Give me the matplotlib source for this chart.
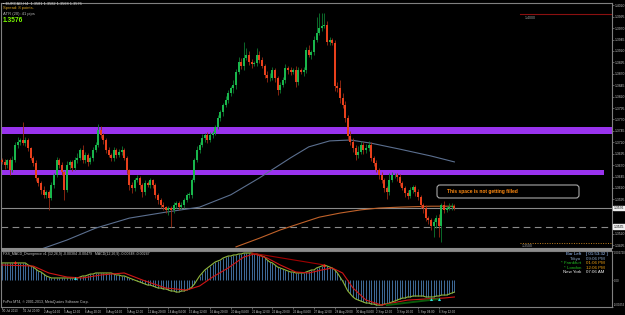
import numpy as np
import matplotlib
matplotlib.use("Agg")
import matplotlib.pyplot as plt
import matplotlib.transforms as mtransforms
from matplotlib.patches import FancyBboxPatch, Rectangle

plt.rcParams['font.family'] = ['Liberation Sans', 'DejaVu Sans']

# ---------------- data ----------------
closes = [
    1.3677, 1.3670, 1.3681, 1.3659, 1.3681, 1.3714, 1.3721, 1.3725, 1.3718, 1.3725,
    1.3707, 1.3686, 1.3675, 1.3642, 1.3631, 1.3616, 1.3605, 1.3611, 1.3598, 1.3626,
    1.3648, 1.3681, 1.3670, 1.3655, 1.3616, 1.3670, 1.3677, 1.3663, 1.3681, 1.3686,
    1.3703, 1.3681, 1.3692, 1.3677, 1.3686, 1.3703, 1.3714, 1.3747, 1.3736, 1.3725,
    1.3703, 1.3692, 1.3686, 1.3703, 1.3692, 1.3699, 1.3703, 1.3686, 1.3659, 1.3626,
    1.3620, 1.3637, 1.3642, 1.3626, 1.3611, 1.3631, 1.3626, 1.3637, 1.3626, 1.3605,
    1.3594, 1.3583, 1.3578, 1.3572, 1.3576, 1.3572, 1.3583, 1.3587, 1.3578, 1.3583,
    1.3594, 1.3605, 1.3605, 1.3637, 1.3681, 1.3703, 1.3714, 1.3729, 1.3736, 1.3725,
    1.3736, 1.3740, 1.3753, 1.3773, 1.3786, 1.3802, 1.3813, 1.3828, 1.3839, 1.3845,
    1.3874, 1.3896, 1.3887, 1.3905, 1.3911, 1.3896, 1.3892, 1.3894, 1.3911, 1.3900,
    1.3887, 1.3868, 1.3861, 1.3861, 1.3878, 1.3861, 1.3835, 1.3845, 1.3856, 1.3883,
    1.3878, 1.3874, 1.3878, 1.3852, 1.3878, 1.3874, 1.3878, 1.3922, 1.3911, 1.3918,
    1.3944, 1.3959, 1.3970, 1.3975, 1.3977, 1.3940, 1.3944, 1.3937, 1.3843, 1.3839,
    1.3817, 1.3802, 1.3773, 1.3734, 1.3721, 1.3707, 1.3692, 1.3699, 1.3714, 1.3703,
    1.3707, 1.3714, 1.3686, 1.3675, 1.3659, 1.3648, 1.3637, 1.3620, 1.3611, 1.3637,
    1.3648, 1.3648, 1.3644, 1.3631, 1.3620, 1.3609, 1.3602, 1.3616, 1.3622, 1.3611,
    1.3600, 1.3583, 1.3576, 1.3554, 1.3550, 1.3537, 1.3545, 1.3554, 1.3537, 1.3583,
    1.3572, 1.3576, 1.3578, 1.3580, 1.3576,
]
first_open = 1.3681
upper_wick_pips = [
    4, 6, 3, 5, 8, 6, 10, 5, 40, 6,
    4, 3, 5, 6, 3, 4, 8, 5, 4, 6,
    5, 7, 4, 6, 3, 8, 5, 4, 6, 10,
    5, 12, 6, 4, 5, 7, 6, 12, 8, 5,
    4, 6, 5, 7, 4, 6, 8, 5, 4, 3,
    6, 5, 7, 4, 5, 6, 4, 5, 3, 4,
    5, 4, 6, 3, 5, 4, 6, 5, 4, 6,
    5, 4, 6, 5, 4, 8, 6, 10, 5, 7,
    6, 5, 4, 6, 5, 4, 8, 6, 5, 12,
    6, 10, 8, 35, 15, 8, 6, 5, 15, 8,
    6, 5, 8, 10, 6, 5, 4, 7, 6, 8,
    5, 6, 4, 8, 6, 5, 7, 6, 12, 5,
    8, 35, 33, 28, 26, 8, 6, 5, 8, 10,
    18, 12, 8, 6, 10, 8, 6, 12, 8, 6,
    10, 8, 6, 5, 7, 4, 6, 5, 4, 15,
    6, 5, 4, 6, 5, 4, 7, 6, 5, 4,
    6, 5, 4, 6, 5, 4, 8, 6, 10, 5,
    8, 5, 10, 6, 5,
]
lower_wick_pips = [
    5, 8, 6, 10, 4, 5, 6, 8, 5, 7,
    6, 5, 8, 6, 7, 10, 8, 6, 26, 5,
    6, 4, 7, 6, 22, 5, 8, 6, 4, 6,
    5, 7, 6, 8, 5, 6, 4, 5, 6, 8,
    6, 5, 8, 6, 7, 5, 6, 4, 8, 10,
    12, 6, 5, 8, 10, 6, 5, 7, 6, 8,
    10, 8, 6, 7, 12, 37, 6, 8, 6, 5,
    6, 5, 8, 6, 5, 4, 6, 5, 8, 6,
    5, 6, 4, 5, 6, 8, 5, 6, 7, 10,
    8, 5, 6, 8, 5, 6, 10, 5, 8, 6,
    5, 8, 10, 6, 5, 8, 12, 6, 5, 6,
    8, 6, 5, 10, 6, 5, 8, 6, 5, 8,
    6, 5, 4, 6, 5, 8, 6, 5, 10, 8,
    12, 6, 8, 10, 6, 8, 10, 6, 5, 8,
    6, 5, 8, 6, 5, 8, 6, 8, 15, 6,
    5, 6, 8, 6, 5, 8, 6, 5, 6, 8,
    6, 8, 10, 6, 8, 10, 24, 12, 24, 35,
    6, 5, 4, 6, 5,
]

ma_slow_bars = [15, 25, 36, 49, 63, 76, 88, 99, 111, 118, 126, 134, 142, 153, 165, 174]
ma_slow_vals = [1.3486, 1.3506, 1.3532, 1.3554, 1.3567, 1.3578, 1.3605, 1.3642, 1.3686,
                1.3710, 1.3723, 1.3725, 1.3718, 1.3705, 1.3690, 1.3677]
ma_fast_bars = [90, 99, 107, 115, 122, 130, 138, 145, 153, 165, 174]
ma_fast_vals = [1.3491, 1.3510, 1.3528, 1.3543, 1.3556, 1.3565, 1.3572, 1.3576, 1.3578,
                1.3580, 1.3580]

zone_upper = (1.3738, 1.3754)
zone_lower = (1.3648, 1.3659)
bid_price = 1.3576
dashed_level = 1.3535
level_high = 1.4000
level_low = 1.3500

price_tick_labels = ["1.4020", "1.3995", "1.3970", "1.3945", "1.3920", "1.3895", "1.3870",
                     "1.3845", "1.3820", "1.3795", "1.3770", "1.3745", "1.3720", "1.3695",
                     "1.3670", "1.3645", "1.3620", "1.3595", "1.3520", "1.3495"]

time_labels = ["30 Jul 2013", "31 Jul 20:00", "2 Aug 04:00", "5 Aug 12:00", "6 Aug 20:00",
               "8 Aug 04:00", "9 Aug 12:00", "12 Aug 20:00", "14 Aug 04:00", "15 Aug 12:00",
               "16 Aug 20:00", "20 Aug 04:00", "21 Aug 12:00", "22 Aug 20:00", "26 Aug 04:00",
               "27 Aug 12:00", "28 Aug 20:00", "30 Aug 04:00", "2 Sep 12:00", "3 Sep 20:00",
               "5 Sep 04:00", "6 Sep 12:00"]

# MACD main (histogram + line), in units of 1e-5
macd_main = [
    160, 160, 160, 160, 160, 160, 160, 160, 160, 160,
    141, 131, 122, 103, 84, 75, 56, 38, 28, 19,
    19, 19, 19, 19, 19, 19, 19, 19, 19, 19,
    28, 38, 38, 47, 56, 56, 66, 66, 66, 66,
    66, 66, 66, 56, 47, 47, 38, 38, 28, 19,
    9, 0, -9, -19, -28, -38, -47, -47, -56, -66,
    -75, -75, -84, -84, -94, -103, -103, -113, -113, -103,
    -103, -94, -84, -66, -38, 0, 38, 66, 94, 113,
    131, 150, 169, 178, 188, 206, 216, 225, 225, 235,
    235, 244, 244, 253, 253, 253, 253, 244, 244, 235,
    225, 216, 188, 169, 160, 141, 122, 113, 103, 94,
    84, 75, 75, 66, 66, 66, 66, 75, 84, 94,
    94, 113, 122, 131, 141, 131, 122, 113, 94, 66,
    28, -9, -56, -103, -131, -159, -178, -188, -197, -206,
    -216, -216, -225, -225, -235, -235, -235, -225, -225, -216,
    -206, -197, -188, -178, -169, -169, -159, -159, -150, -150,
    -150, -150, -150, -159, -159, -159, -159, -150, -150, -141,
    -141, -141, -131, -122, -113,
]
signal_bars = [0, 12, 18, 25, 31, 38, 47, 54, 63, 71, 76, 81, 87, 93, 97, 102, 107, 113,
               118, 123, 127, 131, 135, 140, 146, 150, 156, 163, 170, 174]
signal_vals = [141, 131, 66, 28, 19, 47, 66, 0, -75, -94, -56, 28, 113, 216, 244, 206, 141,
               75, 66, 94, 113, 66, -75, -188, -235, -216, -188, -178, -169, -159]
div_bear_bars = [96, 124]
div_bear_vals = [253, 141]
div_bull_bars = [148, 168]
div_bull_vals = [-235, -178]
arrow_up_red = [(5, 169), (124, 141)]
arrow_up_cyan = [(28, 19), (165, -178), (168, -178)]

# ---------------- layout ----------------
W, H = 625, 315
fig = plt.figure(figsize=(W / 100, H / 100), dpi=100, facecolor='black')

def fx(px):
    return px / W

def fyb(py):
    return 1 - py / H

L, R = 1, 612
main_top, main_bot = 3, 248
ind_top, ind_bot = 251, 307
ax = fig.add_axes([fx(L), fyb(main_bot), fx(R - L), (main_bot - main_top) / H])
axm = fig.add_axes([fx(L), fyb(ind_bot), fx(R - L), (ind_bot - ind_top) / H])

grey = '#808080'
txt = '#c8c8c8'
for a in (ax, axm):
    a.set_facecolor('black')
    for s in a.spines.values():
        s.set_color(grey)
        s.set_linewidth(0.8)

px_per_bar = 2.6
xlo = (L - 2) / px_per_bar
xhi = (R - 2) / px_per_bar
ax.set_xlim(xlo, xhi)
axm.set_xlim(xlo, xhi)
ax.set_ylim(1.34885, 1.40250)
axm.set_ylim(-253e-5, 272e-5)

# ---------------- main chart ----------------
n = len(closes)
idx = np.arange(n)
c = np.array(closes)
o = np.array([first_open] + closes[:-1])
top = np.maximum(o, c)
bot = np.minimum(o, c)
hi = top + np.array(upper_wick_pips) * 1e-4
lo = bot - np.array(lower_wick_pips) * 1e-4
bull = c >= o

# zones
ax.fill_between([xlo, xhi], zone_upper[0], zone_upper[1], color='#9933ee', lw=0, zorder=1)
ax.fill_between([xlo, (604 - 2) / px_per_bar], zone_lower[0], zone_lower[1],
                color='#9933ee', lw=0, zorder=1)

# horizontal levels
ax.axhline(bid_price, color='#8a8a8a', lw=0.8, zorder=2)
ax.axhline(dashed_level, color='#8a8a8a', lw=0.8, ls=(0, (6, 4)), zorder=2)
ax.plot([(520 - 2) / px_per_bar, xhi], [level_high, level_high], color='#8b1010', lw=0.8, zorder=2)
ax.plot([(520 - 2) / px_per_bar, xhi], [level_low, level_low], color='#c08020', lw=0.7,
        ls=(0, (1, 1.5)), zorder=2)
ax.text((525 - 2) / px_per_bar, level_high - 0.0004, "1.4000", color='#a0a0a0', fontsize=2.6,
        va='top', ha='left')
ax.text((522 - 2) / px_per_bar, level_low - 0.0002, "1.3500", color='#a0a0a0', fontsize=2.6,
        va='top', ha='left')

# moving averages
ax.plot(ma_slow_bars, ma_slow_vals, color='#5b6f8f', lw=0.8, zorder=3)
ax.plot(ma_fast_bars, ma_fast_vals, color='#c0622a', lw=0.8, zorder=3)

# candles
wick_col = np.where(bull, '#0d7a30', '#9a2a12')
body_col = np.where(bull, '#19b64c', '#e8401c')
ax.vlines(idx, lo, hi, colors=wick_col, lw=0.6, zorder=4)
heights = np.maximum(top - bot, 0.00008)
ax.bar(idx, heights, bottom=bot, width=0.72, color=body_col, lw=0, zorder=5)

# right price axis
tick_vals = [float(s) for s in price_tick_labels]
ax.yaxis.tick_right()
ax.set_yticks(tick_vals)
ax.set_yticklabels(price_tick_labels)
ax.tick_params(axis='y', colors=grey, labelcolor=txt, labelsize=2.4, length=1.2, width=0.5, pad=0.5)
ax.set_xticks([])
blend = mtransforms.blended_transform_factory(ax.transAxes, ax.transData)
for val, lab in [(bid_price, "1.3576"), (dashed_level, "1.3535")]:
    ax.text(1.003, val, lab, transform=blend, fontsize=2.4, color='black', va='center', ha='left',
            bbox=dict(boxstyle='square,pad=0.12', fc='#f0f0f0', ec='#f0f0f0'), clip_on=False)

# annotation box
ident = mtransforms.IdentityTransform()
box = FancyBboxPatch((437, H - 198), 142, 13, boxstyle='round,pad=0,rounding_size=3',
                     transform=ident, fc='none', ec='#a8a8a8', lw=0.8, zorder=10)
fig.patches.append(box)

def ptext(x, y, s, **kw):
    kw.setdefault('va', 'center')
    kw.setdefault('ha', 'left')
    fig.text(fx(x), fyb(y), s, **kw)

ptext(447, 192, "This space is not getting filled", color='#ff8a10', fontsize=3.5, weight='bold')

# header texts
ptext(3, 3.8, "\u25aa EURCAD,H4  1.3581 1.3582 1.3568 1.3576", color='#dcdcdc', fontsize=2.8)
ptext(3, 8.5, "Spread: 8 points.", color='#d4a020', fontsize=3.0)
ptext(3, 14.3, "ATR (20): 41 pips", color='#b4b4b4', fontsize=3.0)
ptext(3, 20.5, "1.3576", color='#7cfc00', fontsize=4.8, weight='bold')

# separator between panes
fig.patches.append(Rectangle((fx(L), fyb(250.8)), fx(R - L), 2.6 / H, transform=fig.transFigure,
                             fc='#8c8c8c', ec='none'))

# ---------------- indicator ----------------
m = np.array(macd_main) * 1e-5
axm.vlines(idx, 0, m, colors='#4a7db3', lw=0.6, zorder=2)
axm.plot(idx, m, color='#8fb43a', lw=0.8, zorder=3)
axm.plot(signal_bars, np.array(signal_vals) * 1e-5, color='#d01515', lw=0.8, zorder=3)
axm.plot(div_bear_bars, np.array(div_bear_vals) * 1e-5, color='#a00000', lw=0.8, zorder=4)
axm.plot(div_bull_bars, np.array(div_bull_vals) * 1e-5, color='#0a5a0a', lw=1.4, zorder=4)
for b, v in arrow_up_red:
    axm.plot(b, v * 1e-5, marker='^', ms=2.2, color='#ff2020', mew=0, zorder=5)
for b, v in arrow_up_cyan:
    axm.plot(b, v * 1e-5, marker='^', ms=2.2, color='#30e0e0', mew=0, zorder=5)

axm.yaxis.tick_right()
axm.set_yticks([272e-5, 0, -253e-5])
axm.set_yticklabels(["0.002720", "0.00", "-0.00253"])
axm.tick_params(axis='y', colors=grey, labelcolor=txt, labelsize=2.0, length=1.0, width=0.5, pad=0.3)
ytl = axm.get_yticklabels()
ytl[0].set_va('top')
ytl[2].set_va('bottom')

time_pos = [8 * k for k in range(len(time_labels))]
axm.set_xticks(time_pos)
axm.set_xticklabels(time_labels)
axm.tick_params(axis='x', colors=grey, labelcolor=txt, labelsize=2.2, length=1.2, width=0.5, pad=0.6)
for t in axm.get_xticklabels():
    t.set_ha('left')

ptext(3, 254.5, "FXS_MACD_Divergence v1 (12,26,9) -0.00384 -0.00479   MACD(12,26,9) -0.00348 -0.00247",
      color=txt, fontsize=2.5)
ptext(3, 302.5, "FxPro MT4, \u00a9 2001-2013, MetaQuotes Software Corp.", color=txt, fontsize=2.5)

# clock panel
rows = [("Bar Left", "#9ec4ff", "[ 01:53:32 ]", "#9ec4ff"),
        ("Tokyo", "#8aa6c8", "09:06 PM", "#8aa6c8"),
        ("* Frankfurt", "#22c022", "01:06 PM", "#f0a010"),
        ("* London", "#22c022", "12:06 PM", "#f0a010"),
        ("New York", "#f0f0f0", "07:06 AM", "#f0f0f0")]
for k, (lab, lc, val, vc) in enumerate(rows):
    yy = 254 + 4.6 * k
    ptext(581, yy, lab, color=lc, fontsize=3.2, ha='right')
    ptext(586, yy, val, color=vc, fontsize=3.2)

fig.savefig("out.png", dpi=100, facecolor='black')
